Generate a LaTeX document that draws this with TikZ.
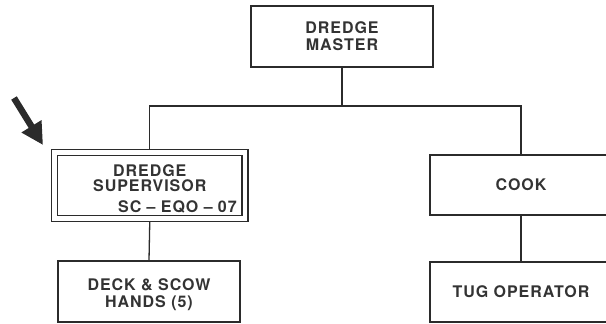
\documentclass[tikz,border=0pt]{standalone}
\usepackage{fontspec}
\setmainfont{TeX Gyre Heros}
\newfontfamily\chartfont[LetterSpace=6]{TeX Gyre Heros}
\usetikzlibrary{arrows.meta,positioning}
\definecolor{ink}{HTML}{2B2B2B}
\definecolor{pen}{HTML}{333333}

\begin{document}
\begin{tikzpicture}[x=1pt,y=-1pt,
  post/.style={draw=ink,line width=1.3pt,minimum width=182pt,minimum height=61pt,
    inner sep=0pt,text=pen,align=center,
    font=\chartfont\bfseries\fontsize{16}{17}\selectfont},
  link/.style={draw=ink,line width=1.3pt}]
  \useasboundingbox (0,0) rectangle (606,324);
  \clip (0,0) rectangle (606,324);

  % Top of the chart
  \node[post] (master) at (342,36.5) {DREDGE\\MASTER};

  % Left branch (highlighted)
  \node[post,double=white,double distance=4.8pt,minimum width=190.5pt,
    minimum height=66pt,outer sep=3.7pt,text width=174pt,
    font=\chartfont\bfseries\fontsize{16}{15.5}\selectfont] (sup) at (149.75,185.5)
    {\rule{0pt}{19pt}DREDGE\\SUPERVISOR\\[5.5pt]\hfill SC \textendash{} EQO \textendash{} 07};
  \node[post] (deck) at (149,291.5) {\rule{0pt}{18.5pt}DECK \& SCOW\\HANDS (5)};

  % Right branch
  \node[post,minimum height=60pt] (cook) at (521,185) {COOK};
  \node[post,minimum height=60pt] (tug) at (521,292) {TUG OPERATOR};

  % Connectors
  \coordinate (bus) at (342,106);
  \draw[link] (master.south) -- (bus);
  \draw[link] (sup.north) |- (bus) -| (cook.north);
  \draw[link] (sup.south) -- (deck.north);
  \draw[link] (cook.south) -- (tug.north);

  % Pointer to the supervisor
  \coordinate (pointer tail) at (14,98);
  \coordinate (pointer tip) at (43,145);
  \draw[ink,line width=6.5pt,-{Triangle[length=22pt,width=22pt]}] (pointer tail) -- (pointer tip);
\end{tikzpicture}
\end{document}
